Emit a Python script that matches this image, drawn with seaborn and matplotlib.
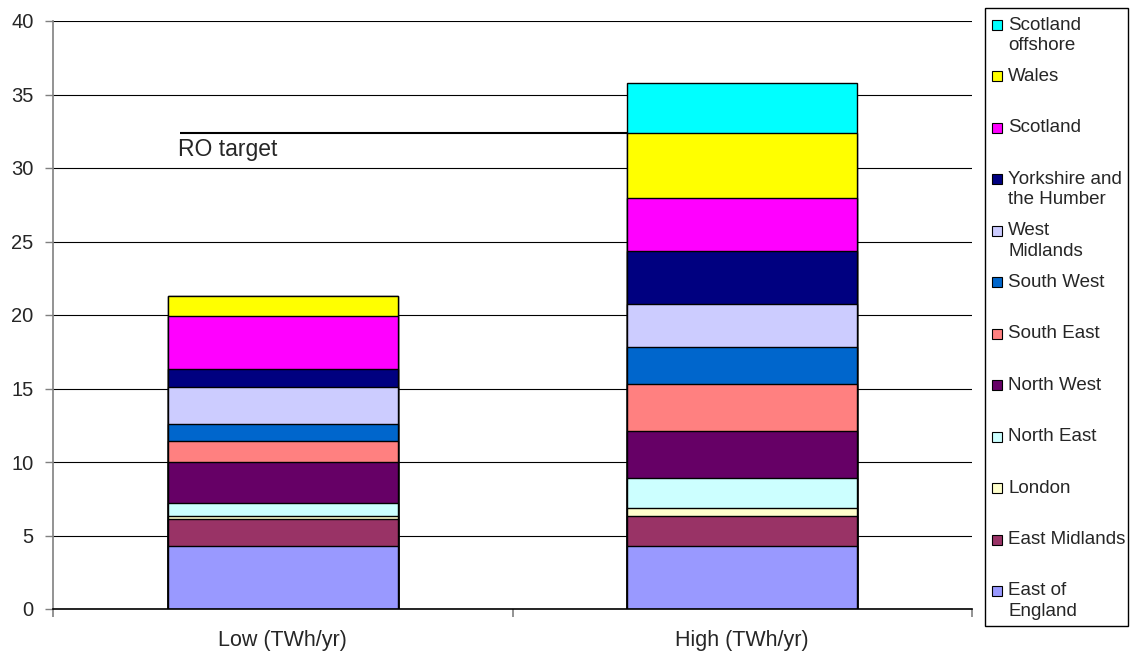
import matplotlib
matplotlib.use("Agg")
import matplotlib.pyplot as plt
from matplotlib.patches import Rectangle
import numpy as np
import pandas as pd
import seaborn as sns

# Scenario categories and regional contributions (TWh/yr), bottom to top of each stack
scenarios = ["Low (TWh/yr)", "High (TWh/yr)"]
regions = ["East of England", "East Midlands", "London", "North East", "North West",
           "South East", "South West", "West Midlands", "Yorkshire and the Humber",
           "Scotland", "Wales", "Scotland offshore"]
legend_names = ["East of\nEngland", "East Midlands", "London", "North East", "North West",
                "South East", "South West", "West\nMidlands", "Yorkshire and\nthe Humber",
                "Scotland", "Wales", "Scotland\noffshore"]
low_values = [4.3, 1.8, 0.2, 0.9, 2.8, 1.4, 1.2, 2.5, 1.25, 3.6, 1.35, 0.0]
high_values = [4.3, 2.0, 0.6, 2.0, 3.2, 3.2, 2.55, 2.9, 3.6, 3.6, 4.4, 3.45]
region_colors = ["#9999FF", "#993366", "#FFFFCC", "#CCFFFF", "#660066", "#FF8080",
                 "#0066CC", "#CCCCFF", "#000080", "#FF00FF", "#FFFF00", "#00FFFF"]
ro_target = 32.4
y_ticks = [0, 5, 10, 15, 20, 25, 30, 35, 40]

sns.set_style("white")
plt.rcParams["font.family"] = ["Liberation Sans", "DejaVu Sans"]

W, H = 1131, 657
fig = plt.figure(figsize=(W / 100, H / 100), dpi=100)
ax = fig.add_axes([53 / W, (H - 609) / H, 919 / W, 588 / H])

df = pd.DataFrame({"scenario": scenarios})
for name, lo, hi in zip(regions, low_values, high_values):
    df[name] = [lo, hi]
cum = df[regions].cumsum(axis=1)

# Stacked bars: draw cumulative totals from the top layer down
for name, col in zip(regions[::-1], region_colors[::-1]):
    sns.barplot(x=df["scenario"], y=cum[name], order=scenarios, color=col,
                saturation=1, width=0.5, edgecolor="black", linewidth=1.0,
                errorbar=None, ax=ax, zorder=3)

ax.set_xlim(-0.5, 1.5)
ax.set_ylim(0, 40)
ax.set_yticks(y_ticks)
ax.set_xlabel("")
ax.set_ylabel("")
ax.yaxis.grid(True, color="black", linewidth=0.8)
ax.set_axisbelow(True)

for s in ["top", "right"]:
    ax.spines[s].set_visible(False)
ax.spines["left"].set_color("#808080")
ax.spines["left"].set_linewidth(1.2)
ax.spines["bottom"].set_color("black")
ax.spines["bottom"].set_linewidth(1.2)
ax.spines["bottom"].set_zorder(4)

ax.tick_params(axis="y", length=6, width=1, color="#808080", pad=8, labelsize=14.5,
               left=True)
ax.tick_params(axis="x", which="major", length=0, pad=15, labelsize=15.5, bottom=True)
ax.set_xticks([-0.5, 0.5, 1.5], minor=True)
ax.tick_params(axis="x", which="minor", length=6, width=1.2, color="#808080", bottom=True)

# Renewables Obligation target line with label
ax.hlines(ro_target, -0.224, 0.75, color="black", linewidth=1.5, zorder=5)
ax.text(-0.228, ro_target - 0.35, "RO target", fontsize=16.5, ha="left", va="top",
        zorder=5)

# Legend box on the right, entries listed top layer first
def fx(px):
    return px / W

def fy(py):
    return 1 - py / H

fig.patches.append(Rectangle((fx(985), fy(626)), fx(1128) - fx(985), (626 - 8) / H,
                             transform=fig.transFigure, facecolor="white",
                             edgecolor="black", linewidth=1.0))
first_line = 25.0
step = 51.45
for i, (label, col) in enumerate(zip(legend_names[::-1], region_colors[::-1])):
    yc = first_line + i * step
    fig.patches.append(Rectangle((fx(992), fy(yc + 5)), 10 / W, 10 / H,
                                 transform=fig.transFigure, facecolor=col,
                                 edgecolor="black", linewidth=0.8))
    for j, line in enumerate(label.split("\n")):
        fig.text(fx(1008), fy(yc + j * 20.5), line, fontsize=13.5,
                 ha="left", va="center")

fig.savefig("out.png", dpi=100)
